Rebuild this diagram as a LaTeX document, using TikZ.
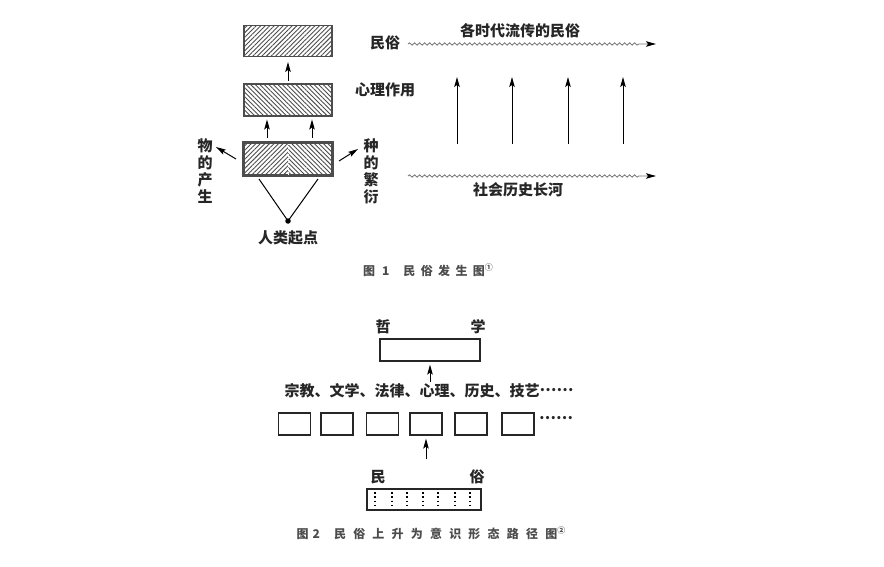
\documentclass[tikz,border=0pt]{standalone}
\usepackage{fontspec}
\setmainfont{Noto Sans CJK SC}
\newfontfamily\capfont[LetterSpace=45]{Noto Sans CJK SC}
\usetikzlibrary{patterns.meta,arrows.meta,decorations.pathmorphing}

\begin{document}
\begin{tikzpicture}[x=1pt, y=-1pt,
		hbox/.style={draw=black!70, line width=1.6pt, minimum width=88pt, minimum height=31pt, inner sep=0pt},
		ne/.style={pattern={Lines[angle=45, distance=3.2pt, line width=0.9pt]}, pattern color=black!70},
		nw/.style={pattern={Lines[angle=-45, distance=3.2pt, line width=0.9pt]}, pattern color=black!70},
		wbox/.style={draw=black!85, line width=1.2pt, inner sep=0pt, minimum height=22pt},
		arr/.style={line width=1pt, -{Stealth[length=10pt, width=5.5pt, inset=2pt]}},
		wave/.style={draw=black!55, line width=0.8pt, decorate, decoration={snake, amplitude=1.2pt, segment length=5pt, post length=16pt}, -{Stealth[length=10pt, width=5.5pt, inset=2pt, black]}},
		lbl/.style={font=\fontsize{15}{17}\selectfont\bfseries, text=black!85, inner sep=0pt},
		captext/.style={font=\capfont\fontsize{12}{14}\selectfont\bfseries, text=black!70, inner sep=0pt}]
		\useasboundingbox (0,0) rectangle (884,567);
		\begin{scope}
			\node[hbox, ne] (top) at (288,41) {};
			\node[hbox, nw, minimum height=32pt] (mid) at (288,100) {};
			\node[hbox, minimum height=32pt] (bot) at (288,159) {};
			\fill[ne] (bot.north west) rectangle (bot.south);
			\fill[nw] (bot.north) rectangle (bot.south east);
			\draw[white, densely dotted, line width=1pt] (bot.north) -- (bot.south);
			\draw[draw=black!70, line width=1.6pt] (bot.north west) rectangle (bot.south east);
			\draw[arr, shorten <=3pt, shorten >=5pt] (mid.north) -- (top.south);
			\draw[arr, shorten <=4pt, shorten >=3pt] ([xshift=-21pt]bot.north) -- ([xshift=-21pt]mid.south);
			\draw[arr, shorten <=4pt, shorten >=3pt] ([xshift=24pt]bot.north) -- ([xshift=24pt]mid.south);
			\coordinate (vl) at (259,179);
			\coordinate (vr) at (318,179);
			\node[circle, fill, inner sep=0pt, minimum size=5.5pt] (orig) at (288,221) {};
			\draw[line width=1pt] (vl) -- (orig.center) -- (vr);
			\node[lbl] (start) at (288,238) {人类起点};
			\node[lbl, align=center] (wu) at (205,171) {物\\的\\产\\生};
			\node[lbl, align=center] (zhong) at (371,171) {种\\的\\繁\\衍};
			\coordinate (la) at (236,159);
			\coordinate (lb) at (216,147);
			\coordinate (ra) at (339,161);
			\coordinate (rb) at (358,149);
			\draw[arr] (la) -- (lb);
			\draw[arr] (ra) -- (rb);
			\node[lbl] (minsu) at (385,43) {民俗};
			\node[lbl] (xinli) at (385,90) {心理作用};
			\coordinate (ta) at (408,44);
			\coordinate (tb) at (656,44);
			\coordinate (ba) at (408,176);
			\coordinate (bb) at (656,176);
			\draw[wave] (ta) -- (tb);
			\draw[wave] (ba) -- (bb);
			\node[lbl] (gesd) at (520,31) {各时代流传的民俗};
			\node[lbl] (shls) at (518,190) {社会历史长河};
			\foreach \x in {457,512,568,623} {
				\coordinate (s\x) at (\x,144);
				\coordinate (e\x) at (\x,77);
				\draw[arr] (s\x) -- (e\x);
			}
		\end{scope}
		\node[captext] (cap1) at (428,270) {图\hspace{7pt}1\hspace{14pt}民俗发生图\raisebox{5pt}{\fontsize{8}{8}\selectfont ①}};
		\begin{scope}
			\node[lbl] (zhe) at (383,327) {哲};
			\node[lbl] (xue) at (478,327) {学};
			\node[wbox, minimum width=100pt] (phil) at (430,350) {};
			\node[lbl] (fields) at (429,391) {宗教、文学、法律、心理、历史、技艺\raisebox{0.32em}{……}};
			\draw[arr, shorten <=2pt, shorten >=3pt] (fields.north -| phil.south) -- (phil.south);
			\foreach \x [count=\i] in {294.5,337,382.5,426,471,518}
				\node[wbox, minimum width=32pt] (b\i) at (\x,424) {};
			\node[lbl, anchor=west] (more) at (539,420) {\raisebox{0.32em}{……}};
			\coordinate (up) at (426,459);
			\draw[arr, shorten >=3pt] (up) -- (b4.south);
			\node[lbl] (min) at (378,477) {民};
			\node[lbl] (su) at (477,477) {俗};
			\node[wbox, minimum width=114pt, minimum height=21pt] (folk) at (424,499.5) {};
			\foreach \x in {375,392,407,423,438,455,470}
				\draw[line width=1.5pt, dash pattern=on 1.5pt off 2.8pt] (\x,492) -- (\x,508);
		\end{scope}
		\node[captext] (cap2) at (431,533) {\addfontfeatures{LetterSpace=60}图\hspace{4pt}2\hspace{14pt}民俗上升为意识形态路径图\raisebox{5pt}{\fontsize{8}{8}\selectfont ②}};
	\end{tikzpicture}
\end{document}
